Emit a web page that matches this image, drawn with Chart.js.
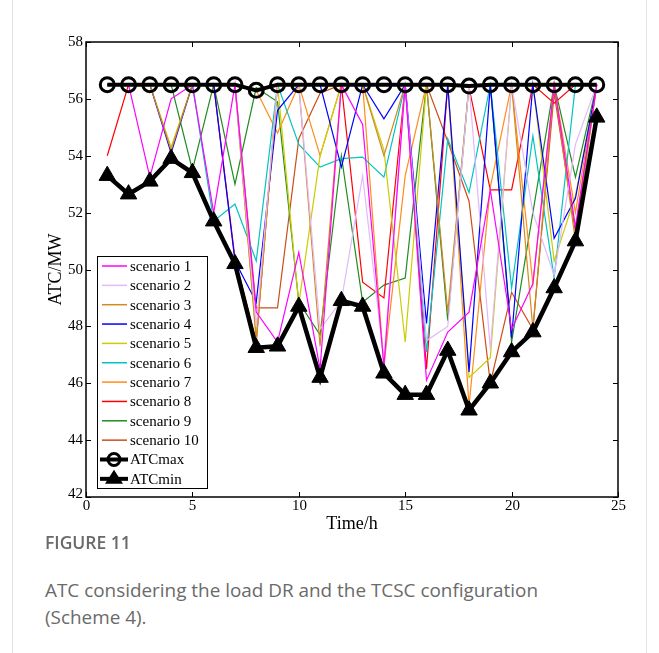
<!DOCTYPE html>
<html>
<head>
<meta charset="utf-8">
<script src="https://cdn.jsdelivr.net/npm/chart.js@4.4.1/dist/chart.umd.min.js"></script>
<style>
  html, body { margin: 0; padding: 0; background: #fff; }
  #wrap { position: relative; width: 659px; height: 653px; overflow: hidden; }
  #c { position: absolute; left: 0; top: 0; }
  .edge { position: absolute; top: 0; bottom: 0; width: 1px; background: #e4e4e4; }
  #figlabel { position: absolute; left: 45px; top: 530px; font-family: "Open Sans", sans-serif; font-weight: 600; font-size: 17.5px; color: #6a6a6a; }
  #figcap { position: absolute; left: 45px; top: 577px; width: 540px; font-family: "Open Sans", sans-serif; font-size: 18.9px; line-height: 27px; color: #6a6a6a; }
</style>
</head>
<body>
<div id="wrap">
  <div class="edge" style="left:12px"></div>
  <div class="edge" style="left:646px"></div>
  <canvas id="c" width="659" height="540"></canvas>
  <div id="figlabel">FIGURE 11</div>
  <div id="figcap">ATC considering the load DR and the TCSC configuration (Scheme 4).</div>
</div>
<script>
const hours = [1,2,3,4,5,6,7,8,9,10,11,12,13,14,15,16,17,18,19,20,21,22,23,24];
const xTicks = [0,5,10,15,20,25];
const yTicks = [42,44,46,48,50,52,54,56,58];

const scenario1  = [56.5,56.5,53.25,56.0,56.5,52.0,56.5,48.5,47.45,50.6,46.5,56.5,55.1,46.6,56.5,46.1,47.8,48.5,52.8,47.9,49.5,56.5,51.5,56.5];
const scenario2  = [56.5,56.5,56.5,56.5,56.5,56.5,56.5,48.0,56.5,56.5,47.9,48.9,53.3,46.8,56.5,47.5,48.0,56.5,47.2,56.5,52.0,49.8,54.4,56.5];
const scenario3  = [56.5,56.5,56.5,54.2,56.5,56.5,56.5,47.5,56.5,56.5,47.3,56.5,56.5,54.0,56.5,56.5,48.5,56.5,56.5,56.5,47.9,56.5,51.0,56.5];
const scenario4  = [56.5,56.5,56.5,54.1,56.5,56.5,50.3,48.85,55.6,56.5,56.5,53.6,56.5,55.3,56.5,48.1,56.5,46.4,56.5,47.6,56.5,51.1,52.5,56.5];
const scenario5  = [56.5,56.5,56.5,54.3,56.5,56.5,56.5,47.6,56.5,48.8,54.0,56.5,56.5,54.2,47.45,56.5,56.5,46.2,46.9,56.5,56.5,50.3,52.6,56.5];
const scenario6  = [56.5,56.5,56.5,56.5,56.5,51.7,52.3,50.3,56.5,54.4,53.6,53.9,53.95,53.25,56.5,47.1,54.6,52.7,56.5,49.35,54.7,49.7,56.5,56.5];
const scenario7  = [56.5,56.5,56.5,56.5,56.5,56.5,56.5,56.3,54.8,56.5,54.0,56.5,56.5,46.6,53.3,56.5,56.5,45.2,52.9,56.5,49.5,56.5,52.0,56.5];
const scenario8  = [54.0,56.5,56.5,56.5,56.5,56.5,50.4,47.45,56.5,56.5,56.5,56.5,49.55,49.0,56.5,46.5,56.5,56.4,52.8,52.8,56.5,55.85,56.5,56.5];
const scenario9  = [56.5,56.5,56.5,56.5,53.5,56.5,53.0,56.4,55.9,48.85,47.7,54.0,48.85,49.45,49.7,56.5,48.2,56.5,56.5,47.45,52.0,56.5,53.25,56.5];
const scenario10 = [56.5,56.5,56.5,56.5,56.5,56.5,56.5,48.65,48.65,54.6,56.2,56.5,56.5,56.5,56.5,56.5,54.5,52.4,46.0,49.2,47.9,56.2,51.3,56.5];
const atcMax = [56.5,56.5,56.5,56.5,56.5,56.5,56.5,56.3,56.5,56.5,56.5,56.5,56.5,56.5,56.5,56.5,56.5,56.45,56.5,56.5,56.5,56.5,56.5,56.5];
const atcMin = [53.3,52.65,53.1,53.9,53.4,51.7,50.2,47.25,47.3,48.7,46.2,48.9,48.7,46.35,45.6,45.6,47.15,45.05,46.0,47.1,47.8,49.35,51.0,55.35];

const scenarioNames = ['scenario 1','scenario 2','scenario 3','scenario 4','scenario 5','scenario 6','scenario 7','scenario 8','scenario 9','scenario 10'];
const scenarioData = [scenario1,scenario2,scenario3,scenario4,scenario5,scenario6,scenario7,scenario8,scenario9,scenario10];
const scenarioColors = ['#ff00ff','#e2b8ff','#d08a1e','#0000ff','#cccc00','#00c4c4','#ff8c1a','#ff0000','#1f8c1f','#cc4d1a'];

const pts = arr => arr.map((v,i) => ({x: hours[i], y: v}));

const datasets = scenarioData.map((d,i) => ({
  label: scenarioNames[i], data: pts(d), borderColor: scenarioColors[i], backgroundColor: scenarioColors[i],
  borderWidth: 1.2, pointRadius: 0, tension: 0, order: 2
}));
datasets.push({ label: 'ATCmax', data: pts(atcMax), borderColor: '#000', backgroundColor: 'rgba(0,0,0,0)',
  borderWidth: 4, pointStyle: 'circle', pointRadius: 7, pointBorderWidth: 3, pointBorderColor: '#000', order: 0 });
datasets.push({ label: 'ATCmin', data: pts(atcMin), borderColor: '#000', backgroundColor: '#000',
  borderWidth: 4.5, pointStyle: 'triangle', pointRadius: 9.5, pointBorderWidth: 1, pointBorderColor: '#000', pointBackgroundColor: '#000', order: 1 });

const serif = "'Liberation Serif', 'Times New Roman', serif";
Chart.defaults.font.family = serif;
Chart.defaults.color = '#000';

const framePlugin = {
  id: 'frame',
  afterDatasetsDraw(chart) {
    const {ctx, chartArea: a, scales} = chart;
    ctx.save();
    ctx.strokeStyle = '#000';
    ctx.lineWidth = 1.5;
    ctx.strokeRect(a.left, a.top, a.right - a.left, a.bottom - a.top);
    ctx.lineWidth = 1;
    const L = 5;
    ctx.fillStyle = '#000';
    ctx.font = '15px ' + serif;
    xTicks.forEach(t => {
      const x = Math.round(scales.x.getPixelForValue(t)) + 0.5;
      ctx.beginPath(); ctx.moveTo(x, a.bottom); ctx.lineTo(x, a.bottom - L);
      ctx.moveTo(x, a.top); ctx.lineTo(x, a.top + L); ctx.stroke();
      ctx.textAlign = 'center'; ctx.textBaseline = 'top';
      ctx.fillText(String(t), x, a.bottom + 2);
    });
    yTicks.forEach(t => {
      const y = Math.round(scales.y.getPixelForValue(t)) + 0.5;
      ctx.beginPath(); ctx.moveTo(a.left, y); ctx.lineTo(a.left + L, y);
      ctx.moveTo(a.right, y); ctx.lineTo(a.right - L, y); ctx.stroke();
      ctx.textAlign = 'right'; ctx.textBaseline = 'middle';
      ctx.fillText(String(t), a.left - 3, t === 42 ? y - 3 : y);
    });
    ctx.restore();
  },
  afterDraw(chart) {
    const ctx = chart.ctx;
    ctx.save();
    const bx = 97, by = 256, bw = 110, bh = 232;
    ctx.fillStyle = '#fff';
    ctx.fillRect(bx, by, bw, bh);
    ctx.strokeStyle = '#000'; ctx.lineWidth = 1;
    ctx.strokeRect(bx + 0.5, by + 0.5, bw, bh);
    ctx.font = '15px ' + serif;
    ctx.textBaseline = 'middle';
    ctx.textAlign = 'left';
    const step = 19.35;
    chart.data.datasets.forEach((ds, i) => {
      const y = by + 10 + i * step;
      ctx.fillStyle = '#000';
      ctx.fillText(ds.label, 130, y + 1);
      if (i < 10) {
        ctx.strokeStyle = ds.borderColor; ctx.lineWidth = 1.5;
        ctx.beginPath(); ctx.moveTo(102, y); ctx.lineTo(127, y); ctx.stroke();
      } else {
        ctx.strokeStyle = '#000'; ctx.lineWidth = 4;
        ctx.beginPath(); ctx.moveTo(100, y); ctx.lineTo(128, y); ctx.stroke();
        if (ds.label === 'ATCmax') {
          ctx.lineWidth = 3;
          ctx.beginPath(); ctx.arc(114, y, 6, 0, Math.PI * 2); ctx.stroke();
        } else {
          ctx.fillStyle = '#000';
          ctx.beginPath(); ctx.moveTo(114, y - 9); ctx.lineTo(123, y + 5); ctx.lineTo(105, y + 5); ctx.closePath(); ctx.fill();
        }
      }
    });
    ctx.restore();
  }
};

new Chart(document.getElementById('c'), {
  type: 'line',
  data: { datasets },
  options: {
    responsive: false,
    animation: false,
    layout: { padding: { left: 0, top: 42, right: 41, bottom: 0 } },
    plugins: { legend: { display: false }, tooltip: { enabled: false } },
    scales: {
      x: {
        type: 'linear', min: 0, max: 25,
        afterBuildTicks: s => { s.ticks = xTicks.map(v => ({value: v})); },
        afterFit: s => { s.height = 43; },
        grid: { display: false, drawTicks: false }, border: { display: false },
        ticks: { display: false },
        title: { display: true, text: 'Time/h', color: '#000', font: { family: serif, size: 18 }, padding: { top: 0, bottom: 5 } }
      },
      y: {
        type: 'linear', min: 42, max: 58,
        afterBuildTicks: s => { s.ticks = yTicks.map(v => ({value: v})); },
        afterFit: s => { s.width = 86; },
        grid: { display: false, drawTicks: false }, border: { display: false },
        ticks: { display: false },
        title: { display: true, text: 'ATC/MW', color: '#000', font: { family: serif, size: 18 }, padding: { top: 45, bottom: 0 } }
      }
    }
  },
  plugins: [framePlugin]
});
</script>
</body>
</html>
